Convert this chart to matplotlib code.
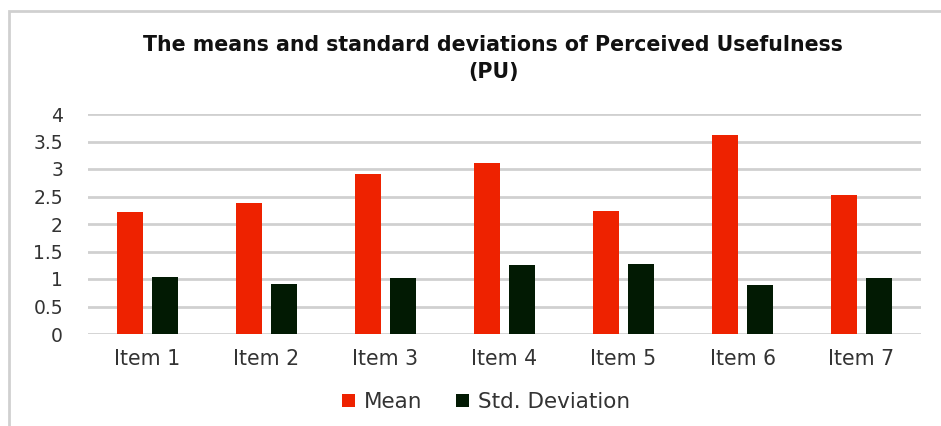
import numpy as np
import matplotlib.pyplot as plt
from matplotlib.patches import Rectangle

# Values
items = ['Item 1', 'Item 2', 'Item 3', 'Item 4', 'Item 5', 'Item 6', 'Item 7']
mean_vals = [2.21, 2.38, 2.91, 3.11, 2.24, 3.62, 2.53]
std_vals = [1.03, 0.91, 1.01, 1.26, 1.28, 0.89, 1.01]
y_ticks = [0, 0.5, 1, 1.5, 2, 2.5, 3, 3.5, 4]
y_tick_labels = ['0', '0.5', '1', '1.5', '2', '2.5', '3', '3.5', '4']

plt.rcParams['font.family'] = ['DejaVu Sans']

fig = plt.figure(figsize=(9.41, 4.26), dpi=100)
ax = fig.add_axes([88 / 941, 1 - 334 / 426, (921 - 88) / 941, (334 - 114) / 426])

x = np.arange(len(items))
w = 0.22
gap = 0.073
ax.bar(x - (w + gap) / 2, mean_vals, w, color='#EE2200', label='Mean', zorder=3)
ax.bar(x + (w + gap) / 2, std_vals, w, color='#021A03', label='Std. Deviation', zorder=3)

ax.set_xlim(-0.5, len(items) - 0.5)
ax.set_ylim(0, 4)
ax.set_yticks(y_ticks)
ax.set_yticklabels(y_tick_labels)
ax.set_xticks(x)
ax.set_xticklabels(items)
ax.tick_params(axis='both', length=0, colors='#333333')
ax.tick_params(axis='x', pad=11, labelsize=14.8)
ax.tick_params(axis='y', pad=18, labelsize=13.5)
ax.grid(axis='y', color='#D0D0D0', linewidth=2, zorder=0)
for s in ax.spines.values():
    s.set_visible(False)

fig.text(493 / 941, 1 - 45 / 426, 'The means and standard deviations of Perceived Usefulness',
         ha='center', va='center', fontsize=14.8, fontweight='bold', color='#111111')
fig.text(493 / 941, 1 - 72 / 426, '(PU)',
         ha='center', va='center', fontsize=14.8, fontweight='bold', color='#111111')

fig.legend(loc='center', bbox_to_anchor=(486 / 941, 1 - 402 / 426), ncol=2, frameon=False,
           fontsize=15.5, handlelength=0.6, handleheight=0.6, columnspacing=1.6, handletextpad=0.4,
           labelcolor='#333333')

# light grey frame round the chart area
fig.patches.append(Rectangle((9 / 941, -0.1), 1.2, 1 - 11 / 426 + 0.1, transform=fig.transFigure,
                             fill=False, edgecolor='#D0D0D0', linewidth=2))

fig.savefig('out.png', dpi=100)
